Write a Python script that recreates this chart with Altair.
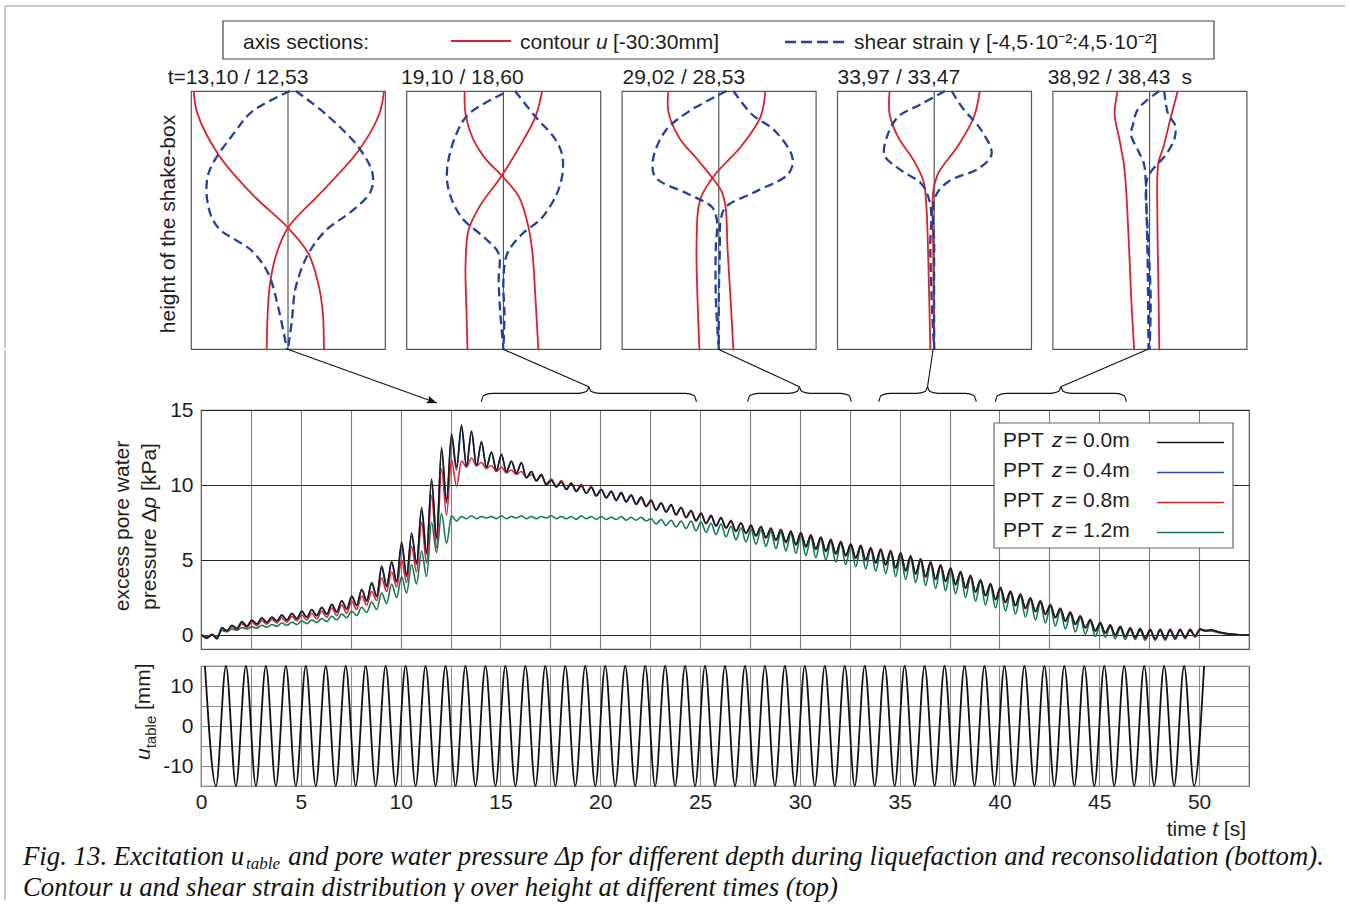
import math
import altair as alt
import pandas as pd

SANS = "Liberation Sans"
SERIF = "Liberation Serif"
INK = "#1e1e1e"
RED = "#dc2128"
BLUE = "#22409c"
FRAME = "#555555"
PAGE = "#c8c8c8"

# ------------------------------------------------------------------ pore water pressure
# Every record alternates between the peaks (t = 0.05 + 0.5 j) and the troughs
# (t = 0.30 + 0.5 j) of the 2 Hz pressure oscillation, followed by the decay tail.
PEAK_T0, TROUGH_T0, HALF_PERIOD = 0.05, 0.30, 0.5
tail_t = [50.3, 50.6, 51.0, 51.5, 52.0, 52.5]

dp00_peaks = [
    0.00, 0.05, 0.50, 0.65, 0.90, 1.00, 1.15, 1.20, 1.35, 1.45,
    1.60, 1.70, 1.85, 2.05, 2.30, 2.60, 3.05, 3.50, 4.60, 4.90,
    6.20, 6.80, 8.50, 10.40, 12.50, 13.40, 14.00, 13.60, 12.90, 12.20,
    12.05, 11.60, 11.50, 10.90, 10.70, 10.30, 10.20, 10.10, 9.95, 9.85,
    9.70, 9.60, 9.50, 9.35, 9.20, 9.00, 8.80, 8.70, 8.50, 8.30,
    8.10, 7.95, 7.80, 7.60, 7.45, 7.30, 7.20, 7.10, 7.00, 6.90,
    6.80, 6.65, 6.50, 6.35, 6.20, 6.05, 5.95, 5.80, 5.70, 5.60,
    5.45, 5.25, 5.05, 4.85, 4.65, 4.45, 4.20, 3.95, 3.65, 3.40,
    3.15, 2.90, 2.70, 2.45, 2.25, 2.00, 1.75, 1.50, 1.25, 1.00,
    0.80, 0.65, 0.55, 0.45, 0.40, 0.35, 0.35, 0.35, 0.35, 0.35, 0.40]
dp00_troughs = [
    -0.20, -0.25, 0.30, 0.45, 0.60, 0.75, 0.85, 0.95, 1.00, 1.10,
    1.20, 1.30, 1.40, 1.55, 1.75, 2.00, 2.30, 2.60, 3.30, 3.60,
    4.00, 4.80, 5.50, 6.50, 9.00, 11.20, 11.30, 11.30, 11.20, 11.00,
    10.90, 10.80, 10.50, 10.30, 10.00, 9.90, 9.70, 9.60, 9.45, 9.30,
    9.15, 9.00, 8.90, 8.75, 8.60, 8.35, 8.20, 8.05, 7.85, 7.65,
    7.45, 7.30, 7.15, 6.95, 6.80, 6.65, 6.50, 6.35, 6.20, 6.05,
    5.90, 5.75, 5.60, 5.45, 5.30, 5.15, 5.00, 4.85, 4.70, 4.50,
    4.30, 4.10, 3.90, 3.75, 3.60, 3.40, 3.15, 2.90, 2.65, 2.40,
    2.20, 2.00, 1.80, 1.60, 1.40, 1.20, 0.95, 0.75, 0.50, 0.30,
    0.15, 0.00, -0.10, -0.15, -0.20, -0.25, -0.25, -0.20, -0.15, -0.05]
dp00_tail = [0.30, 0.35, 0.20, 0.08, 0.02, 0.00]

dp04_peaks = [
    0.00, 0.03, 0.45, 0.62, 0.85, 0.97, 1.10, 1.18, 1.30, 1.42,
    1.55, 1.68, 1.82, 2.00, 2.25, 2.55, 3.00, 3.40, 4.45, 4.80,
    6.00, 6.60, 8.30, 10.20, 12.30, 13.20, 13.80, 13.50, 12.80, 12.15,
    12.00, 11.55, 11.45, 10.90, 10.70, 10.35, 10.20, 10.10, 9.95, 9.85,
    9.70, 9.55, 9.50, 9.30, 9.20, 8.95, 8.80, 8.65, 8.50, 8.25,
    8.10, 7.90, 7.80, 7.55, 7.45, 7.25, 7.20, 7.05, 7.00, 6.85,
    6.80, 6.60, 6.50, 6.30, 6.20, 6.00, 5.95, 5.75, 5.70, 5.55,
    5.45, 5.20, 5.05, 4.80, 4.65, 4.40, 4.20, 3.90, 3.65, 3.35,
    3.15, 2.85, 2.70, 2.40, 2.25, 1.95, 1.75, 1.45, 1.25, 0.95,
    0.80, 0.60, 0.55, 0.40, 0.40, 0.30, 0.35, 0.30, 0.35, 0.30, 0.38]
dp04_troughs = [
    -0.22, -0.25, 0.28, 0.42, 0.58, 0.72, 0.82, 0.92, 0.98, 1.08,
    1.18, 1.28, 1.38, 1.52, 1.72, 1.95, 2.25, 2.55, 3.20, 3.50,
    3.90, 4.70, 5.40, 6.40, 8.80, 11.00, 11.20, 11.25, 11.15, 10.95,
    10.85, 10.75, 10.45, 10.25, 10.00, 9.85, 9.70, 9.55, 9.45, 9.25,
    9.15, 8.95, 8.90, 8.70, 8.60, 8.30, 8.20, 8.00, 7.85, 7.60,
    7.45, 7.25, 7.15, 6.90, 6.80, 6.60, 6.50, 6.30, 6.20, 6.00,
    5.90, 5.70, 5.60, 5.40, 5.30, 5.10, 5.00, 4.80, 4.70, 4.45,
    4.30, 4.05, 3.90, 3.70, 3.60, 3.35, 3.15, 2.85, 2.65, 2.35,
    2.20, 1.95, 1.80, 1.55, 1.40, 1.15, 0.95, 0.70, 0.50, 0.25,
    0.15, -0.05, -0.10, -0.20, -0.20, -0.30, -0.25, -0.25, -0.15, -0.05]
dp04_tail = [0.28, 0.32, 0.18, 0.07, 0.02, 0.00]

dp08_peaks = [
    0.00, 0.03, 0.40, 0.55, 0.75, 0.85, 0.95, 1.05, 1.15, 1.25,
    1.35, 1.45, 1.60, 1.80, 2.00, 2.25, 2.60, 2.90, 3.80, 4.20,
    5.00, 5.90, 7.50, 9.30, 11.10, 11.70, 11.60, 11.80, 11.50, 11.30,
    11.20, 11.00, 10.90, 10.70, 10.60, 10.40, 10.30, 10.15, 10.05, 9.90,
    9.70, 9.55, 9.40, 9.30, 9.10, 8.95, 8.80, 8.65, 8.50, 8.30,
    8.15, 8.00, 7.85, 7.65, 7.50, 7.35, 7.25, 7.15, 7.05, 6.95,
    6.85, 6.70, 6.55, 6.40, 6.25, 6.10, 6.00, 5.85, 5.75, 5.65,
    5.50, 5.30, 5.10, 4.90, 4.70, 4.50, 4.25, 4.00, 3.70, 3.45,
    3.20, 2.95, 2.75, 2.50, 2.30, 2.05, 1.80, 1.55, 1.30, 1.05,
    0.85, 0.70, 0.60, 0.50, 0.45, 0.40, 0.40, 0.40, 0.40, 0.40, 0.40]
dp08_troughs = [
    -0.15, -0.20, 0.25, 0.38, 0.50, 0.62, 0.72, 0.80, 0.85, 0.95,
    1.00, 1.08, 1.18, 1.30, 1.45, 1.70, 2.00, 2.30, 2.90, 3.20,
    3.50, 4.20, 4.80, 5.80, 8.00, 9.90, 11.20, 11.30, 11.10, 10.90,
    10.80, 10.70, 10.50, 10.30, 10.10, 9.90, 9.75, 9.60, 9.45, 9.30,
    9.15, 9.00, 8.85, 8.70, 8.55, 8.35, 8.20, 8.00, 7.80, 7.60,
    7.40, 7.25, 7.10, 6.90, 6.75, 6.60, 6.45, 6.30, 6.15, 6.00,
    5.85, 5.70, 5.55, 5.40, 5.25, 5.10, 4.95, 4.80, 4.65, 4.45,
    4.25, 4.05, 3.85, 3.70, 3.55, 3.35, 3.10, 2.85, 2.60, 2.35,
    2.15, 1.95, 1.75, 1.55, 1.35, 1.15, 0.90, 0.70, 0.45, 0.25,
    0.10, -0.05, -0.15, -0.20, -0.25, -0.30, -0.30, -0.25, -0.20, -0.10]
dp08_tail = [0.30, 0.30, 0.18, 0.07, 0.02, 0.00]

dp12_peaks = [
    0.00, 0.03, 0.30, 0.40, 0.50, 0.55, 0.65, 0.70, 0.80, 0.85,
    0.95, 1.00, 1.10, 1.25, 1.40, 1.60, 1.85, 2.20, 2.80, 3.40,
    3.90, 4.70, 5.60, 7.50, 8.10, 7.95, 7.90, 7.95, 7.90, 7.90,
    7.95, 7.90, 7.95, 7.90, 7.90, 7.95, 7.90, 7.90, 7.95, 7.90,
    7.90, 7.85, 7.90, 7.85, 7.85, 7.75, 7.70, 7.65, 7.60, 7.60,
    7.55, 7.45, 7.40, 7.25, 7.15, 7.05, 7.00, 6.90, 6.85, 6.75,
    6.65, 6.50, 6.40, 6.20, 6.10, 5.95, 5.85, 5.70, 5.60, 5.50,
    5.35, 5.15, 4.95, 4.75, 4.55, 4.35, 4.10, 3.85, 3.55, 3.30,
    3.05, 2.80, 2.60, 2.35, 2.15, 1.90, 1.65, 1.40, 1.15, 0.90,
    0.70, 0.55, 0.45, 0.35, 0.30, 0.30, 0.30, 0.30, 0.30, 0.30, 0.35]
dp12_troughs = [
    -0.10, -0.12, 0.22, 0.32, 0.40, 0.46, 0.52, 0.58, 0.65, 0.70,
    0.76, 0.83, 0.90, 1.00, 1.15, 1.30, 1.50, 1.70, 2.10, 2.50,
    2.80, 3.40, 3.90, 5.50, 6.10, 7.60, 7.75, 7.75, 7.80, 7.75,
    7.75, 7.80, 7.75, 7.75, 7.80, 7.75, 7.75, 7.70, 7.75, 7.70,
    7.70, 7.70, 7.65, 7.65, 7.60, 7.40, 7.30, 7.20, 7.10, 6.95,
    6.85, 6.70, 6.55, 6.35, 6.20, 6.05, 5.90, 5.75, 5.60, 5.45,
    5.30, 5.15, 5.00, 4.85, 4.70, 4.55, 4.40, 4.25, 4.10, 3.90,
    3.70, 3.50, 3.30, 3.10, 2.95, 2.75, 2.50, 2.25, 2.00, 1.80,
    1.60, 1.40, 1.20, 1.00, 0.80, 0.60, 0.40, 0.20, 0.05, -0.10,
    -0.15, -0.25, -0.30, -0.30, -0.35, -0.35, -0.35, -0.30, -0.25, -0.15]
dp12_tail = [0.25, 0.28, 0.15, 0.06, 0.02, 0.00]

depth_keys = ["0.0m", "0.4m", "0.8m", "1.2m"]
depth_colors = ["#1a1a1a", "#2a48a8", "#e3222b", "#0f7a48"]
records = {
    "0.0m": (dp00_peaks, dp00_troughs, dp00_tail),
    "0.4m": (dp04_peaks, dp04_troughs, dp04_tail),
    "0.8m": (dp08_peaks, dp08_troughs, dp08_tail),
    "1.2m": (dp12_peaks, dp12_troughs, dp12_tail),
}

# ------------------------------------------------------------------ shaking table
# turning points of the table displacement (+15 mm / -15 mm)
TABLE_AMP = 15.0
table_peak_t = [0.2, 1.25, 2.25, 3.25, 4.25, 5.25, 6.25, 7.25, 8.25, 9.25,
                10.25, 11.25, 12.25, 13.25, 14.25, 15.25, 16.25, 17.25, 18.25, 19.25,
                20.25, 21.25, 22.25, 23.25, 24.25, 25.25, 26.25, 27.25, 28.25, 29.25,
                30.25, 31.25, 32.25, 33.25, 34.25, 35.25, 36.25, 37.25, 38.25, 39.25,
                40.25, 41.25, 42.25, 43.25, 44.25, 45.25, 46.25, 47.25, 48.25, 49.25, 50.25]
table_trough_t = [0.75, 1.75, 2.75, 3.75, 4.75, 5.75, 6.75, 7.75, 8.75, 9.75,
                  10.75, 11.75, 12.75, 13.75, 14.75, 15.75, 16.75, 17.75, 18.75, 19.75,
                  20.75, 21.75, 22.75, 23.75, 24.75, 25.75, 26.75, 27.75, 28.75, 29.75,
                  30.75, 31.75, 32.75, 33.75, 34.75, 35.75, 36.75, 37.75, 38.75, 39.75,
                  40.75, 41.75, 42.75, 43.75, 44.75, 45.75, 46.75, 47.75, 48.75, 49.75]

# ------------------------------------------------------------------ axis sections
section_titles = ["t=13,10 / 12,53", "19,10 / 18,60", "29,02 / 28,53", "33,97 / 33,47", "38,92 / 38,43"]
# contour u [mm] over relative height (0 = bottom, 1 = top)
contour_u_a = [
    [-29.1, -28.2, -21.6, -11.1, 0.0, 6.3, 9.6, 10.8, 11.1],
    [-12.0, -11.7, -9.6, -5.7, 0.0, 4.8, 7.8, 9.0, 9.9, 10.8],
    [-15.6, -15.6, -12.3, -6.3, -2.1, 0.9, 2.1, 2.7, 3.6, 4.5],
    [-13.8, -13.8, -11.1, -6.3, -3.3, -2.4, -1.8, -1.2],
    [-9.9, -10.8, -9.3, -7.8, -6.6, -5.7, -4.8],
]
contour_h_a = [
    [1.0, 0.92, 0.755, 0.6, 0.47, 0.37, 0.24, 0.135, 0.0],
    [1.0, 0.91, 0.82, 0.74, 0.665, 0.59, 0.47, 0.37, 0.2, 0.0],
    [1.0, 0.92, 0.82, 0.73, 0.665, 0.61, 0.55, 0.39, 0.2, 0.0],
    [1.0, 0.91, 0.82, 0.73, 0.65, 0.55, 0.33, 0.0],
    [1.0, 0.91, 0.81, 0.7, 0.46, 0.2, 0.0],
]
contour_u_b = [
    [29.7, 28.2, 21.9, 10.5, 0.0, -3.9, -5.7, -6.3, -6.6],
    [12.0, 9.9, 4.8, -0.9, -7.5, -10.8, -11.7, -11.4, -11.1],
    [14.4, 12.9, 7.2, -0.9, -5.1, -6.3, -6.9, -6.6, -6.0],
    [14.1, 12.3, 7.5, 1.2, -0.3, -0.3, 0.0],
    [8.7, 6.6, 4.2, 2.7, 2.4, 2.7, 3.0],
]
contour_h_b = [
    [1.0, 0.91, 0.77, 0.61, 0.47, 0.355, 0.24, 0.135, 0.0],
    [1.0, 0.9, 0.78, 0.665, 0.55, 0.46, 0.33, 0.135, 0.0],
    [1.0, 0.9, 0.79, 0.68, 0.6, 0.55, 0.39, 0.2, 0.0],
    [1.0, 0.9, 0.79, 0.68, 0.61, 0.39, 0.0],
    [1.0, 0.9, 0.78, 0.72, 0.52, 0.265, 0.0],
]
# shear strain gamma [1e-2] over relative height
strain_a = [
    [0.09, -1.67, -2.43, -3.69, -3.69, -3.24, -1.67, -0.9, -0.45, -0.05],
    [0.0, -1.62, -2.2, -2.61, -2.52, -1.94, -0.86, -0.22, -0.22, -0.14, 0.0],
    [0.36, -1.4, -2.48, -3.06, -2.93, -1.4, -0.32, -0.09, -0.14, -0.14, 0.0],
    [0.5, -0.59, -1.67, -2.16, -2.3, -1.49, -0.59, -0.18, -0.18, -0.09, 0.0],
    [0.45, -0.54, -0.77, -0.86, -0.54, -0.27, -0.18, -0.14, -0.09, -0.05],
]
strain_h_a = [
    [1.0, 0.92, 0.845, 0.68, 0.55, 0.47, 0.38, 0.29, 0.16, 0.0],
    [0.99, 0.91, 0.83, 0.7, 0.61, 0.51, 0.43, 0.37, 0.265, 0.135, 0.0],
    [1.0, 0.92, 0.845, 0.73, 0.665, 0.6, 0.55, 0.5, 0.39, 0.2, 0.0],
    [1.0, 0.95, 0.9, 0.83, 0.75, 0.69, 0.64, 0.56, 0.39, 0.135, 0.0],
    [1.0, 0.93, 0.87, 0.83, 0.77, 0.72, 0.65, 0.52, 0.33, 0.0],
]
strain_b = [
    [0.36, 1.76, 3.29, 3.92, 3.83, 2.97, 1.76, 0.95, 0.36, 0.18, 0.0],
    [0.54, 1.49, 2.43, 2.75, 2.61, 1.8, 0.86, 0.18, 0.0, 0.05, 0.0],
    [0.68, 1.53, 2.61, 3.42, 3.24, 1.71, 0.32, 0.09, 0.05, 0.0, 0.0],
    [0.81, 1.31, 2.21, 2.66, 2.07, 0.68, 0.05, 0.0, 0.0],
    [0.68, 0.86, 1.17, 1.17, 0.77, 0.09, -0.14, -0.09, 0.05, 0.0],
]
strain_h_b = [
    [1.0, 0.91, 0.78, 0.68, 0.61, 0.535, 0.46, 0.37, 0.24, 0.11, 0.0],
    [1.0, 0.9, 0.81, 0.74, 0.63, 0.51, 0.445, 0.37, 0.265, 0.135, 0.0],
    [1.0, 0.91, 0.845, 0.74, 0.68, 0.61, 0.55, 0.5, 0.39, 0.2, 0.0],
    [1.0, 0.935, 0.845, 0.755, 0.7, 0.65, 0.59, 0.39, 0.0],
    [1.0, 0.91, 0.87, 0.82, 0.755, 0.69, 0.65, 0.46, 0.2, 0.0],
]

# time windows marked by braces under the sections [s]
brace_from = [14.04, 27.38, 33.95, 39.79]
brace_to = [24.82, 32.58, 38.84, 46.36]
arrow_target_t = 11.82

# ------------------------------------------------------------------ layout
W, H_MAIN, H_TAB = 1048, 239, 120
T_MAX, DP_MIN, DP_TOP = 52.5, -0.93, 15.0
PW, PH, PGAP = 194, 258, 21.4
ROW_GAP, SUB_GAP, SHIFT = 62, 17, 10
PX_PER_S = W / T_MAX
PX_PER_KPA = H_MAIN / (DP_TOP - DP_MIN)
GRID_T = [2.5 * i for i in range(21)]
ONE = pd.DataFrame({"k": [0]})


def label(txt, x, y, size=21, align="left", style="normal", angle=0, font=SANS,
          baseline="alphabetic", color=INK):
    return alt.Chart(ONE).mark_text(
        text=txt, align=align, baseline=baseline, fontSize=size, font=font,
        fontStyle=style, angle=angle, color=color,
    ).encode(x=alt.value(x), y=alt.value(y))


def hline(x1, x2, y, color, width, dash=None):
    kw = {"strokeDash": dash} if dash else {}
    return alt.Chart(ONE).mark_rule(color=color, strokeWidth=width, **kw).encode(
        x=alt.value(x1), x2=alt.value(x2), y=alt.value(y))


def vline(x, y1, y2, color, width):
    return alt.Chart(ONE).mark_rule(color=color, strokeWidth=width).encode(
        x=alt.value(x), y=alt.value(y1), y2=alt.value(y2))


def box(x1, x2, y1, y2, stroke, fill="white"):
    return alt.Chart(ONE).mark_rect(fill=fill, stroke=stroke, strokeWidth=1.2).encode(
        x=alt.value(x1), x2=alt.value(x2), y=alt.value(y1), y2=alt.value(y2))


def profile_frame(values, heights, name):
    rows = []
    for c, (vals, hs) in enumerate(zip(values, heights)):
        for i, (v, h) in enumerate(zip(vals, hs)):
            rows.append({"curve": c, "i": i, name: v, "h": h})
    return pd.DataFrame(rows)


title_dx = [-23.3, -5.4, 0.7, 0.3, -4.9]


def section_panel(k):
    x_u = alt.X("u:Q", scale=alt.Scale(domain=[-30, 30], nice=False, zero=False), axis=None)
    x_g = alt.X("g:Q", scale=alt.Scale(domain=[-4.5, 4.5], nice=False, zero=False), axis=None)
    y_h = alt.Y("h:Q", scale=alt.Scale(domain=[0, 1], nice=False, zero=False), axis=None)
    u_df = profile_frame([contour_u_a[k], contour_u_b[k]], [contour_h_a[k], contour_h_b[k]], "u")
    g_df = profile_frame([strain_a[k], strain_b[k]], [strain_h_a[k], strain_h_b[k]], "g")
    centre = alt.Chart(pd.DataFrame({"u": [0.0]})).mark_rule(color="#4a4a4a", strokeWidth=1.1).encode(x=x_u)
    contour = alt.Chart(u_df).mark_line(color=RED, strokeWidth=1.8, interpolate="catmull-rom").encode(
        x=x_u, y=y_h, detail="curve:N", order="i:Q")
    strain = alt.Chart(g_df).mark_line(color=BLUE, strokeWidth=2.3, strokeDash=[9, 5],
                                       interpolate="catmull-rom").encode(
        x=x_g, y=y_h, detail="curve:N", order="i:Q")
    layers = [centre, contour, strain, label(section_titles[k], title_dx[k], -7.3)]
    if k == 4:
        layers.append(label("s", 129, -7.3))
    if k == 0:
        layers += [
            box(32, 1023, -70, -32, "#444444"),
            label("axis sections:", 52, -42),
            hline(260, 320, -50, RED, 1.8),
            label("contour", 329, -42),
            label("u", 405, -42, style="italic"),
            label("[-30:30mm]", 422, -42),
            hline(594, 654, -49, BLUE, 2.3, dash=[11, 5]),
            label("shear strain \u03b3 [-4,5\u00b710\u207b\u00b2:4,5\u00b710\u207b\u00b2]", 663, -42),
            label("height of the shake-box", -22.5, PH / 2 + 4, align="center",
                  baseline="middle", angle=270),
            # page border (upper part)
            hline(-186, 1154, -85, PAGE, 2),
            vline(-186, -85, PH - 1, PAGE, 2),
        ]
    return alt.layer(*layers).resolve_scale(x="independent").properties(width=PW, height=PH)


panels = alt.hconcat(*[section_panel(k) for k in range(5)], spacing=PGAP, bounds="flush")

# ------------------------------------------------------------------ pore pressure chart
rows = []
for key in depth_keys:
    peaks, troughs, tail = records[key]
    for j, v in enumerate(peaks):
        rows.append({"depth": key, "t": PEAK_T0 + HALF_PERIOD * j, "dp": v})
    for j, v in enumerate(troughs):
        rows.append({"depth": key, "t": TROUGH_T0 + HALF_PERIOD * j, "dp": v})
    for t, v in zip(tail_t, tail):
        rows.append({"depth": key, "t": t, "dp": v})
dp_df = pd.DataFrame(rows).sort_values(["depth", "t"])

x_t = alt.X("t:Q", scale=alt.Scale(domain=[0, T_MAX], nice=False, zero=False),
            axis=alt.Axis(values=GRID_T[1:], labels=False, ticks=False, domain=False, grid=True,
                          gridColor="#7d7d7d", gridWidth=1.1, title=None))
y_dp = alt.Y("dp:Q", scale=alt.Scale(domain=[DP_MIN, DP_TOP], nice=False, zero=False),
             axis=alt.Axis(values=[0, 5, 10, 15], ticks=False, domain=False, grid=True,
                           gridColor="#262626", gridWidth=1.1, labelFontSize=21,
                           labelPadding=8, title=None))

dp_layers = []
for key in ["1.2m", "0.8m", "0.4m", "0.0m"]:
    col = depth_colors[depth_keys.index(key)]
    dp_layers.append(
        alt.Chart(dp_df[dp_df.depth == key]).mark_line(color=col, strokeWidth=1.6, interpolate="monotone")
        .encode(x=x_t, y=y_dp))

# braces under the sections (drawn above the plot area in data units)
BR_END, BR_ARM, BR_TIP = 15.55, 16.11, 16.55
brace_rows = []
for b, (a, z) in enumerate(zip(brace_from, brace_to)):
    c = (a + z) / 2
    left = [(a, BR_END), (a + 0.12, BR_ARM - 0.15), (a + 0.55, BR_ARM), (c - 0.55, BR_ARM),
            (c - 0.12, BR_ARM + 0.12), (c, BR_TIP)]
    right = [(c, BR_TIP), (c + 0.12, BR_ARM + 0.12), (c + 0.55, BR_ARM), (z - 0.55, BR_ARM),
             (z - 0.12, BR_ARM - 0.15), (z, BR_END)]
    for half, pts in enumerate([left, right]):
        for i, (t, v) in enumerate(pts):
            brace_rows.append({"part": f"{b}-{half}", "i": i, "t": t, "dp": v})
braces = alt.Chart(pd.DataFrame(brace_rows)).mark_line(
    color="#111111", strokeWidth=1.1, interpolate="monotone", clip=False).encode(
    x=x_t, y=y_dp, detail="part:N", order="i:Q")

# connectors from the bottom centre of each section to its time window
panel_bottom_dp = DP_TOP + (ROW_GAP - 1) / PX_PER_KPA
centres_t = [(-SHIFT + PW / 2 + k * (PW + PGAP) - 1.0) / PX_PER_S for k in range(5)]
arrow_tip_dp = DP_TOP + 7 / PX_PER_KPA
conn_rows = [{"t": centres_t[0], "dp": panel_bottom_dp, "t2": arrow_target_t, "dp2": arrow_tip_dp}]
for k in range(1, 5):
    c = (brace_from[k - 1] + brace_to[k - 1]) / 2
    conn_rows.append({"t": centres_t[k], "dp": panel_bottom_dp, "t2": c, "dp2": BR_TIP})
connectors = alt.Chart(pd.DataFrame(conn_rows)).mark_rule(color="#111111", strokeWidth=1.1, clip=False).encode(
    x=x_t, y=y_dp, x2=alt.X2("t2:Q"), y2=alt.Y2("dp2:Q"))
ang = math.degrees(math.atan2((panel_bottom_dp - arrow_tip_dp) * PX_PER_KPA,
                              (arrow_target_t - centres_t[0]) * PX_PER_S))
arrow_head = alt.Chart(pd.DataFrame({"t": [arrow_target_t], "dp": [arrow_tip_dp]})).mark_point(
    shape="M0,0 L-1,-0.38 L-0.82,0 L-1,0.38 Z", filled=True, size=420, angle=ang,
    color="#111111", opacity=1, clip=False).encode(x=x_t, y=y_dp)

legend_layers = [box(793, 1032, 13, 138, "#666666")]
for i, key in enumerate(depth_keys):
    yb = 37.3 + 30 * i
    legend_layers += [
        label("PPT", 802, yb),
        label("z", 851, yb, style="italic"),
        label("= " + key, 864, yb),
        hline(956, 1023, yb - 4.8, depth_colors[i], 1.6),
    ]

dp_title = [
    label("excess pore water", -78, 116, align="center", baseline="middle", angle=270),
    label("pressure \u0394", -51, 200, baseline="middle", angle=270),
    label("p", -51, 98.4, baseline="middle", angle=270, style="italic"),
    label("[kPa]", -51, 80.9, baseline="middle", angle=270),
    # page border (lower part)
    vline(-196, -(ROW_GAP - 2), 490, PAGE, 2),
]

main_chart = alt.layer(*dp_layers, braces, connectors, arrow_head, *legend_layers, *dp_title).properties(
    width=W, height=H_MAIN)

# ------------------------------------------------------------------ table displacement chart
tab_rows = [{"t": t, "u": TABLE_AMP} for t in table_peak_t] + \
           [{"t": t, "u": -TABLE_AMP} for t in table_trough_t]
tab_df = pd.DataFrame(tab_rows).sort_values("t")

x_tb = alt.X("t:Q", scale=alt.Scale(domain=[0, T_MAX], nice=False, zero=False),
             axis=alt.Axis(values=GRID_T, labelExpr="datum.value % 5 == 0 ? datum.label : ''",
                           labelOverlap=False, labelFlush=False, ticks=False, domain=False,
                           grid=True, gridColor="#8c8c8c", gridWidth=1.1, labelFontSize=21,
                           labelPadding=5, title=None))
y_tb = alt.Y("u:Q", scale=alt.Scale(domain=[-15, 15], nice=False, zero=False),
             axis=alt.Axis(values=[-15, -10, -5, 0, 5, 10, 15],
                           labelExpr="(abs(datum.value) < 15 && datum.value % 10 == 0) ? '' + datum.value : ''",
                           ticks=False, domain=False, grid=True, gridColor="#8c8c8c", gridWidth=1.1,
                           labelFontSize=21, labelPadding=8, title=None))
table_line = alt.Chart(tab_df).mark_line(color="#111111", strokeWidth=1.8, interpolate="monotone").encode(
    x=x_tb, y=y_tb)

CAP = 26.8
CAP_SUB = 17
cap_x0 = -178
cap_sub_x = cap_x0 + 8.25 * CAP + 2.0
cap_rest_x = cap_sub_x + 2.0 * CAP_SUB + 0.25 * CAP + 1.5
bottom_decor = [
    label("u", -57, 94, baseline="middle", angle=270, style="italic"),
    label("table", -50, 82.3, size=15, baseline="middle", angle=270),
    label("[mm]", -57, 44.0, baseline="middle", angle=270),
    label("time", 965.7, 170),
    label("t", 1011.2, 170, style="italic"),
    label("[s]", 1022.8, 170),
    label("Fig. 13. Excitation u", cap_x0, 199, size=CAP, font=SERIF, style="italic", color="#111111"),
    label("table", cap_sub_x, 203, size=CAP_SUB, font=SERIF, style="italic", color="#111111"),
    label("and pore water pressure \u0394p for different depth during liquefaction and reconsolidation (bottom).",
          cap_rest_x, 199, size=CAP, font=SERIF, style="italic", color="#111111"),
    label("Contour u and shear strain distribution \u03b3 over height at different times (top)",
          cap_x0, 230, size=CAP, font=SERIF, style="italic", color="#111111"),
]
table_chart = alt.layer(table_line, *bottom_decor).properties(width=W, height=H_TAB)

spacer = alt.Chart(ONE).mark_point(opacity=0).encode(x=alt.value(0), y=alt.value(0)).properties(
    width=SHIFT, height=10, view=alt.ViewBackground(stroke="transparent"))

lower = alt.hconcat(spacer, alt.vconcat(main_chart, table_chart, spacing=SUB_GAP, bounds="flush"),
                    spacing=0, bounds="flush")

chart = alt.vconcat(panels, lower, spacing=-8).properties(
    padding={"left": 3, "top": 4, "right": 0, "bottom": 0},
    background="white",
).configure_view(stroke=FRAME, strokeWidth=1.2).configure_axis(
    labelFont=SANS, labelColor=INK)

chart.save("out.html", embed_options={"renderer": "svg", "actions": False})
